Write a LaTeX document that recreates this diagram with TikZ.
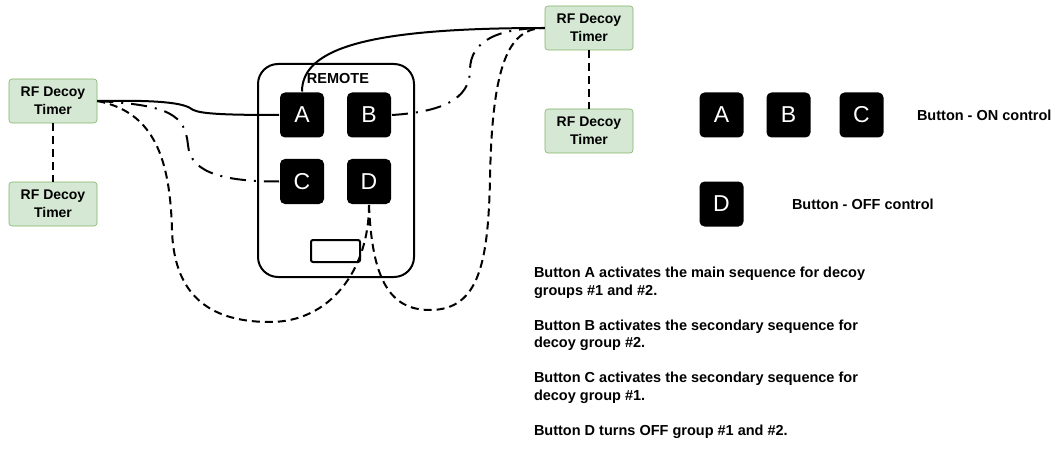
\documentclass[tikz,border=0pt]{standalone}
\usepackage{fontspec}
\setmainfont{Liberation Sans}
\usepackage{tikz}
\usetikzlibrary{calc, positioning}

\definecolor{timerfill}{HTML}{D5E8D4}
\definecolor{timerline}{HTML}{82B366}

\begin{document}
\begin{tikzpicture}[
			x=1pt, y=-1pt,
			line width=2pt,
			timerbox/.style={draw=timerline, line width=0.6pt, fill=timerfill, rounded corners=3pt, rectangle, minimum width=88pt, minimum height=44pt, inner sep=0pt, align=center, font=\fontsize{14}{18}\selectfont\bfseries},
			keybox/.style={fill=black, rounded corners=5pt, rectangle, minimum width=44pt, minimum height=45pt, inner sep=0pt, text=white, font=\fontsize{23}{23}\selectfont},
			infotext/.style={inner sep=0pt, align=left, font=\fontsize{14.5}{17.5}\selectfont\bfseries},
			legtext/.style={inner sep=0pt, font=\fontsize{14.5}{17}\selectfont\bfseries},
			dashline/.style={dash pattern=on 8pt off 5pt},
			dotline/.style={dash pattern=on 16pt off 8pt on 2pt off 8pt}
		]
		\useasboundingbox (0,0) rectangle (1056,449);

		% timers
		\node[timerbox] (lt) at (53,101) {RF Decoy\\Timer};
		\node[timerbox] (lb) at (53,204) {RF Decoy\\Timer};
		\node[timerbox] (rt) at (589,28) {RF Decoy\\Timer};
		\node[timerbox] (rb) at (589,131) {RF Decoy\\Timer};

		% remote
		\node[draw, rounded corners=20pt, minimum width=156pt, minimum height=213pt, inner sep=0pt] (remote) at (336,170.5) {};
		\node[legtext] (rlabel) at (338,79) {REMOTE};
		\node[keybox] (A) at (302,115) {A};
		\node[keybox] (B) at (369,115) {B};
		\node[keybox] (C) at (302,181.5) {C};
		\node[keybox] (D) at (369,181.5) {D};
		\node[draw, rounded corners=2pt, minimum width=49pt, minimum height=22pt, inner sep=0pt] (slot) at (335.5,251) {};

		% legend
		\node[keybox] (lA) at (721.5,115) {A};
		\node[keybox] (lB) at (788.5,115) {B};
		\node[keybox] (lC) at (861.5,115) {C};
		\node[keybox] (lD) at (721.5,204) {D};
		\node[legtext, anchor=west] (on) at (916,115) {Button - ON control};
		\node[legtext, anchor=west] (off) at (791,204) {Button - OFF control};

		\node[infotext, anchor=north west] (notes) at (533,266) {Button A activates the main sequence for decoy\\groups \#1 and \#2.\\[17.5pt]Button B activates the secondary sequence for\\decoy group \#2.\\[17.5pt]Button C activates the secondary sequence for\\decoy group \#1.\\[17.5pt]Button D turns OFF group \#1 and \#2.};

		% links
		\draw[dashline] (lt) -- (lb);
		\draw[dashline] (rt) -- (rb);
		\draw (lt.east) .. controls (150,100) and (180,102) .. (190,108) .. controls (196,113) and (210,115) .. (A.west);
		\draw (A.north) .. controls (302,45) and (380,28) .. (rt.west);
		\draw[dotline] (lt.east) .. controls (170,105) and (185,115) .. (188,145) .. controls (190,175) and (230,181.5) .. (C.west);
		\draw[dotline] (B.east) .. controls (440,112) and (470,100) .. (470,70) .. controls (470,40) and (500,28) .. (rt.west);
		\draw[dashline] (lt.east) .. controls (155,112) and (170,160) .. (172,230) .. controls (174,300) and (215,322) .. (270,322) .. controls (330,322) and (369,270) .. (D.south);
		\draw[dashline] (D.south) .. controls (372,280) and (390,310) .. (430,310) .. controls (480,310) and (488,260) .. (490,180) .. controls (492,60) and (510,28) .. (rt.west);
	\end{tikzpicture}
\end{document}
